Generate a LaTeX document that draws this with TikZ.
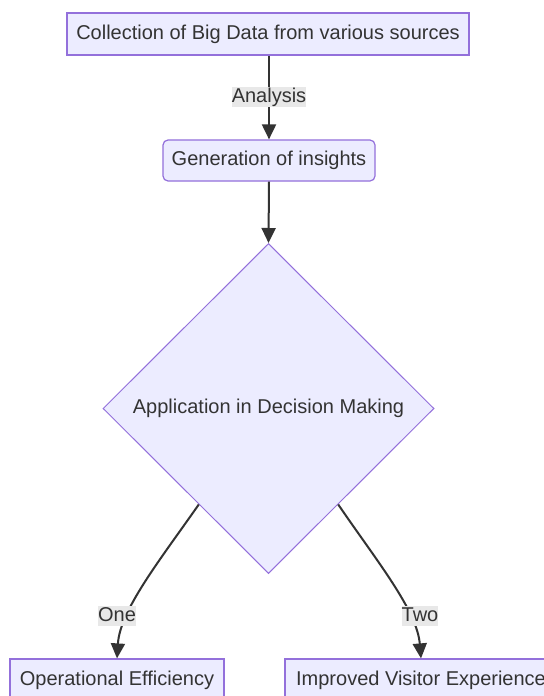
\documentclass[tikz,border=0pt]{standalone}
\usepackage{fontspec}
\setmainfont{Liberation Sans}
\usetikzlibrary{shapes.geometric,arrows.meta}
\definecolor{boxfill}{HTML}{ECECFF}
\definecolor{boxline}{HTML}{9370DB}
\definecolor{ink}{HTML}{333333}
\definecolor{lblbg}{HTML}{E8E8E8}
\begin{document}
\begin{tikzpicture}[x=1bp,y=-1bp,
  font=\fontsize{20bp}{24bp}\selectfont, text=ink,
  box/.style={draw=boxline, fill=boxfill, line width=1.2bp, inner sep=0pt,
    minimum height=42bp},
  roundbox/.style={box, rounded corners=5bp, minimum height=41bp},
  decision/.style={diamond, aspect=1, draw=boxline, fill=boxfill, line width=1bp,
    inner sep=0pt, minimum width=331bp, minimum height=330bp},
  edgelabel/.style={fill=lblbg, inner sep=0pt, minimum height=20bp,
    text height=15bp, text depth=4bp},
  flow/.style={draw=ink, line width=2bp,
    -{Triangle[length=15bp,width=14bp]}}]
  \useasboundingbox (0,0) rectangle (544,696);
  \fill[white] (0,0) rectangle (544,696);
  \begin{scope}
    \clip (0,0) rectangle (544,696);
    \node[box, minimum width=402bp] (collect) at (268,34) {Collection of Big Data from various sources};
    \node[roundbox, minimum width=212bp] (insight) at (269,160.5) {Generation of insights};
    \node[decision] (apply) at (268.5,408.5) {Application in Decision Making};
    \node[box, minimum width=214bp] (opeff) at (117,680) {Operational Efficiency};
    \node[box, minimum width=272bp] (visitor) at (421,680) {Improved Visitor Experience};

    \draw[flow] (collect.south -| insight.north) -- (insight.north);
    \node[edgelabel] (lanalysis) at (269,97) {Analysis};
    \draw[flow] (insight.south) -- (apply.north);

    \draw[flow] (apply.234) .. controls (160,560) and (120,610) .. (opeff.north);
    \draw[flow] (apply.306) .. controls (376,560) and (417,610) .. (visitor.north);
    \node[edgelabel] (lone) at (117,616) {One};
    \node[edgelabel] (ltwo) at (420,616) {Two};
  \end{scope}
\end{tikzpicture}
\end{document}
